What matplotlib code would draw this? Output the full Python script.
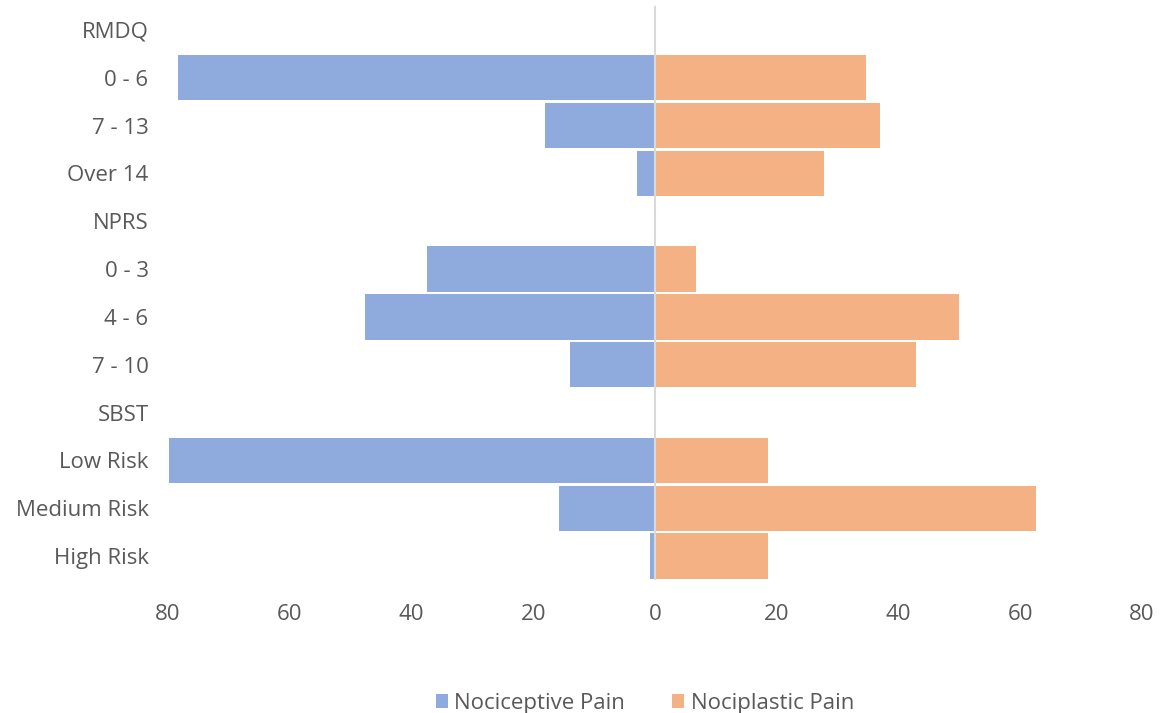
import matplotlib.pyplot as plt
from matplotlib.ticker import FuncFormatter

plt.rcParams['font.family'] = ['Open Sans', 'DejaVu Sans']

categories = ['RMDQ', '0 - 6', '7 - 13', 'Over 14',
              'NPRS', '0 - 3', '4 - 6', '7 - 10',
              'SBST', 'Low Risk', 'Medium Risk', 'High Risk']
nociceptive = [0, 78.3, 18.1, 3.0, 0, 37.4, 47.6, 14.0, 0, 79.8, 15.8, 0.8]
nociplastic = [0, 34.6, 36.9, 27.8, 0, 6.7, 49.9, 42.9, 0, 18.6, 62.6, 18.6]

blue = '#8FAADC'
orange = '#F4B183'
text_col = '#595959'

fig = plt.figure(figsize=(11.62, 7.13), dpi=100)
ax = fig.add_axes([0.1446, 0.1865, 0.8382, 0.8051])

# nociceptive drawn to the left of zero, nociplastic to the right
y = range(len(categories))
ax.barh(y, [-v for v in nociceptive], height=0.95, color=blue, label='Nociceptive Pain')
ax.barh(y, nociplastic, height=0.95, color=orange, label='Nociplastic Pain')
ax.axvline(0, color='#D9D9D9', lw=1.5)

ax.set_xlim(-80, 80)
ax.set_ylim(len(categories) - 0.5, -0.5)
ax.set_yticks(list(y))
ax.set_yticklabels(categories)
ax.set_xticks(range(-80, 81, 20))
ax.xaxis.set_major_formatter(FuncFormatter(lambda v, p: f'{abs(int(v))}'))
ax.tick_params(axis='both', length=0, labelsize=16, colors=text_col)
ax.tick_params(axis='x', pad=17)
ax.tick_params(axis='y', pad=14)
for s in ax.spines.values():
    s.set_visible(False)

fig.legend(loc='lower center', ncol=2, frameon=False, fontsize=16,
           bbox_to_anchor=(0.555, -0.029), handlelength=0.55, handleheight=0.55,
           handletextpad=0.3, columnspacing=2.1, labelcolor=text_col)

fig.savefig('out.png', dpi=100)
